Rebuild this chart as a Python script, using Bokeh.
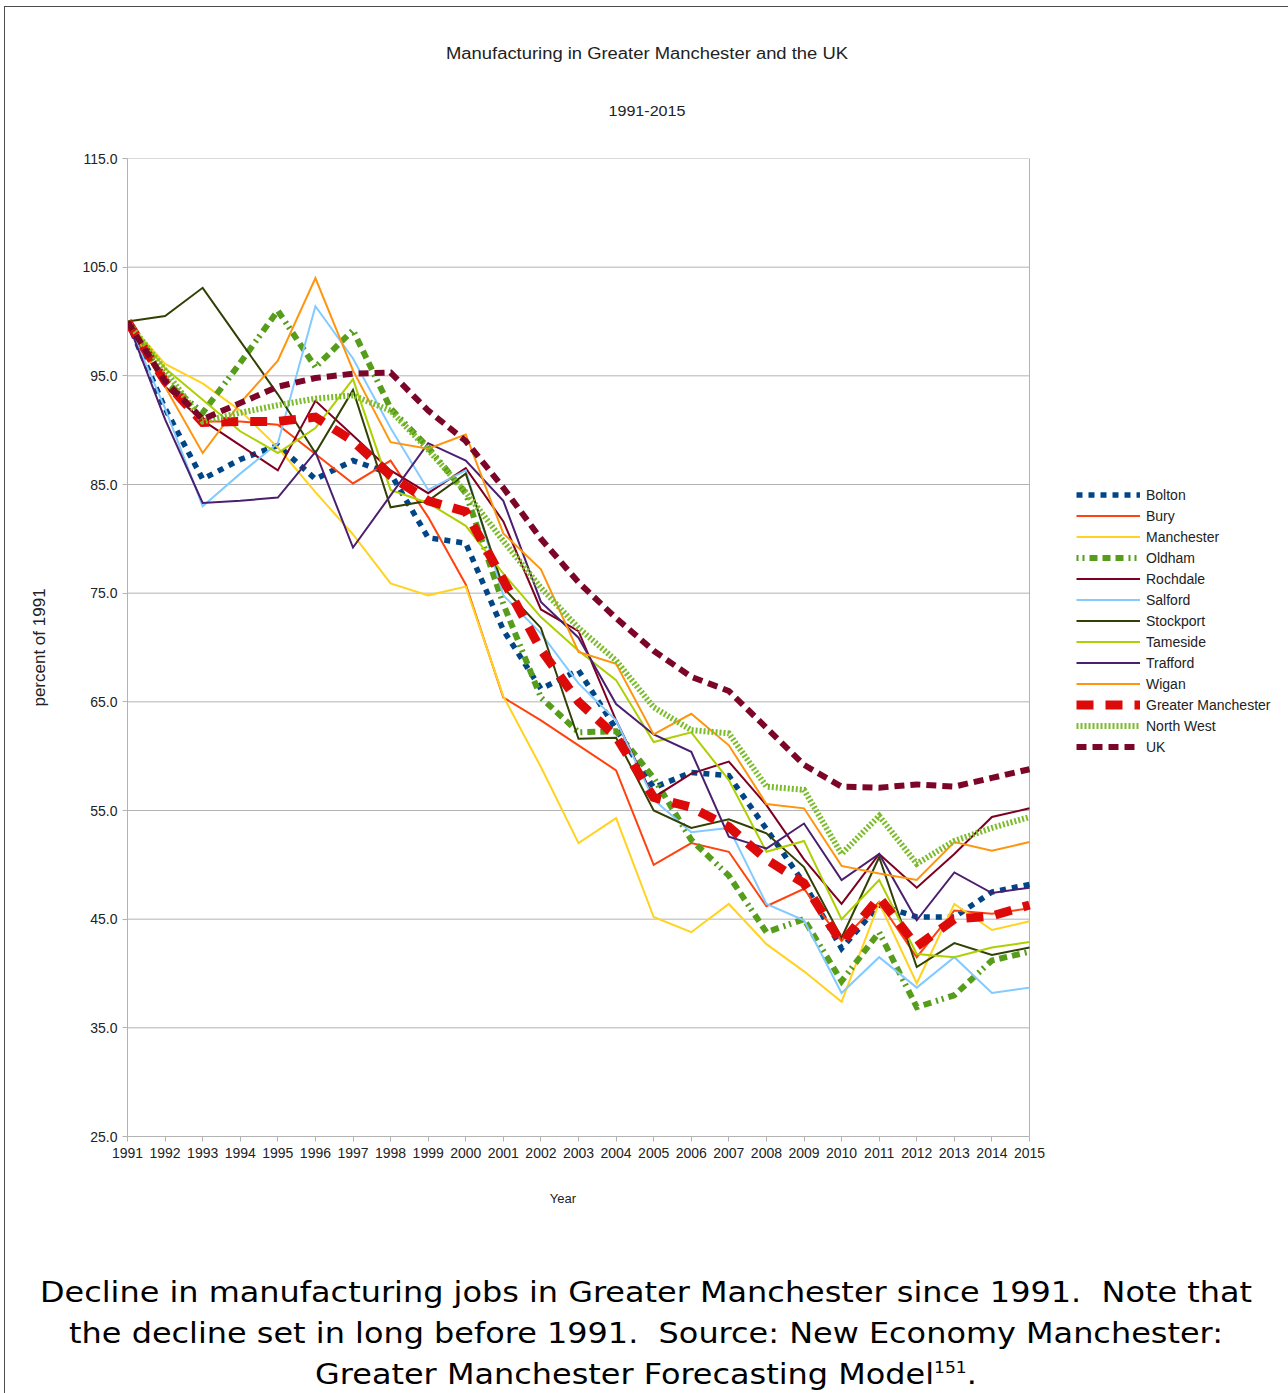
from bokeh.plotting import figure
from bokeh.models import (Range1d, FixedTicker, NumeralTickFormatter, Legend, LegendItem, Div)
from bokeh.layouts import column
from bokeh.embed import file_html
from bokeh.resources import INLINE

years = [1991, 1992, 1993, 1994, 1995, 1996, 1997, 1998, 1999, 2000, 2001, 2002, 2003,
         2004, 2005, 2006, 2007, 2008, 2009, 2010, 2011, 2012, 2013, 2014, 2015]
y_ticks = [25, 35, 45, 55, 65, 75, 85, 95, 105, 115]

bolton = [100, 92.0, 85.5, 87.3, 88.6, 85.5, 87.2, 86.0, 80.1, 79.6, 71.6, 66.2, 67.9, 62.5,
          57.1, 58.5, 58.2, 53.3, 48.3, 42.3, 46.3, 45.2, 45.2, 47.5, 48.2]
bury = [100, 94.0, 90.8, 90.8, 90.5, 87.8, 85.1, 87.2, 82.0, 75.8, 65.4, 63.3, 61.0, 58.7,
        50.0, 52.0, 51.2, 46.2, 47.8, 43.0, 46.6, 41.5, 45.8, 45.5, 46.0]
manchester = [100, 96.1, 94.3, 91.8, 88.4, 84.3, 80.4, 75.9, 74.8, 75.6, 65.5, 59.0, 52.0,
              54.3, 45.2, 43.8, 46.4, 42.7, 40.2, 37.4, 46.5, 39.1, 46.4, 44.0, 44.8]
oldham = [100, 94.5, 91.6, 96.2, 101.0, 95.8, 99.2, 92.0, 88.4, 84.2, 74.0, 65.4, 62.2, 62.3,
          58.0, 52.3, 49.0, 43.8, 45.0, 39.3, 43.8, 36.9, 38.0, 41.2, 42.0]
rochdale = [100, 94.0, 90.9, 88.6, 86.3, 92.7, 89.5, 86.3, 84.2, 86.5, 81.6, 73.5, 71.5, 63.3,
            56.2, 58.4, 59.5, 55.5, 50.5, 46.4, 51.0, 47.9, 51.0, 54.4, 55.2]
salford = [100, 92.0, 83.0, 86.0, 88.8, 101.4, 96.6, 90.2, 84.5, 86.3, 74.8, 71.3, 66.7, 63.3,
           56.0, 53.0, 53.4, 46.4, 44.9, 38.2, 41.5, 38.7, 41.5, 38.2, 38.7]
stockport = [100, 100.5, 103.1, 98.2, 93.3, 87.9, 93.7, 82.9, 83.5, 86.0, 75.5, 71.8, 61.6,
             61.7, 55.0, 53.4, 54.2, 52.9, 49.8, 43.3, 50.7, 40.6, 42.8, 41.7, 42.4]
tameside = [100, 95.7, 92.8, 89.9, 87.9, 90.2, 94.7, 84.5, 83.3, 81.2, 76.8, 72.8, 69.7, 67.0,
            61.3, 62.2, 57.8, 51.2, 52.2, 45.0, 48.6, 41.8, 41.5, 42.4, 42.9]
trafford = [100, 91.0, 83.3, 83.5, 83.8, 88.0, 79.2, 84.0, 88.8, 87.2, 83.5, 74.2, 70.9, 64.8,
            62.0, 60.4, 52.6, 51.5, 53.8, 48.6, 51.0, 44.9, 49.3, 47.4, 47.9]
wigan = [100, 94.0, 87.9, 92.5, 96.4, 104.0, 95.5, 88.9, 88.3, 89.6, 80.5, 77.2, 69.6, 68.5,
         62.0, 63.9, 61.0, 55.6, 55.2, 49.9, 49.2, 48.6, 52.1, 51.3, 52.1]
greater_manchester = [100, 94.5, 90.7, 90.8, 90.8, 91.2, 89.0, 85.8, 83.5, 82.5, 76.2, 69.8,
                      65.0, 61.8, 56.2, 55.3, 53.5, 50.5, 48.3, 42.8, 47.0, 42.5, 45.0, 45.3, 46.3]
north_west = [100, 95.5, 90.8, 91.6, 92.3, 92.9, 93.2, 91.8, 88.2, 84.3, 79.8, 75.5, 71.8,
              68.8, 64.5, 62.4, 62.1, 57.2, 56.9, 51.0, 54.5, 50.1, 52.2, 53.4, 54.4]
uk = [100, 94.5, 91.0, 92.5, 94.0, 94.8, 95.2, 95.3, 91.8, 89.0, 84.7, 80.0, 76.0, 72.7, 69.7,
      67.3, 66.0, 62.6, 59.2, 57.2, 57.1, 57.4, 57.2, 58.0, 58.8]

series_names = ["Bolton", "Bury", "Manchester", "Oldham", "Rochdale", "Salford", "Stockport",
                "Tameside", "Trafford", "Wigan", "Greater Manchester", "North West", "UK"]
series_values = [bolton, bury, manchester, oldham, rochdale, salford, stockport, tameside,
                 trafford, wigan, greater_manchester, north_west, uk]

styles = {
    "Bolton": dict(color="#004586", width=5.5, dash="6 6"),
    "Bury": dict(color="#ff420e", width=2, dash="solid"),
    "Manchester": dict(color="#ffd320", width=2, dash="solid"),
    "Oldham": dict(color="#579d1c", width=6, dash="2 4 2 5 8 5 8 5 8 5"),
    "Rochdale": dict(color="#7e0021", width=2, dash="solid"),
    "Salford": dict(color="#83caff", width=2, dash="solid"),
    "Stockport": dict(color="#314004", width=2, dash="solid"),
    "Tameside": dict(color="#aecf00", width=2, dash="solid"),
    "Trafford": dict(color="#4b1f6f", width=2, dash="solid"),
    "Wigan": dict(color="#ff950e", width=2, dash="solid"),
    "Greater Manchester": dict(color="#dd0a0a", width=9, dash="17 12"),
    "North West": dict(color="#7cbb2c", width=6, dash="2 2"),
    "UK": dict(color="#7b0628", width=6, dash="10 6"),
}

PAGE_W = 1288
TITLE_H = 140
FIG_BOTTOM = 1175
FIG_H = FIG_BOTTOM - TITLE_H
CAP_H = 1393 - FIG_BOTTOM
FL, FR = 127, 1029          # plot area left / right (page px)
FT, FB = 158, 1136          # plot area top / bottom (page px)
px_per_year = (FR - FL) / (years[-1] - years[0])
x_end = years[0] + (PAGE_W - FL) / px_per_year   # frame runs on under the legend

p = figure(width=PAGE_W, height=FIG_H, output_backend="svg", toolbar_location=None,
           x_range=Range1d(years[0], x_end), y_range=Range1d(y_ticks[0], y_ticks[-1]),
           min_border_left=FL, min_border_right=0,
           min_border_top=FT - TITLE_H, min_border_bottom=FIG_BOTTOM - FB,
           margin=0)
p.background_fill_color = "white"
p.border_fill_alpha = 0
p.outline_line_color = None
p.xgrid.visible = False
p.ygrid.visible = False

# plot-area grid and right border, limited to the data span
p.segment(x0=years[0], y0=y_ticks, x1=years[-1], y1=y_ticks,
          line_color="#b3b3b3", line_width=1)
p.segment(x0=years[-1], y0=y_ticks[0], x1=years[-1], y1=y_ticks[-1],
          line_color="#b3b3b3", line_width=1)

p.yaxis.ticker = FixedTicker(ticks=y_ticks)
p.yaxis.formatter = NumeralTickFormatter(format="0.0")
p.xaxis.ticker = FixedTicker(ticks=years)
p.xaxis.bounds = (years[0], years[-1])
for ax in (p.xaxis, p.yaxis):
    ax.axis_line_color = "#b3b3b3"
    ax.major_tick_line_color = "#b3b3b3"
    ax.minor_tick_line_color = None
    ax.major_tick_in = 0
    ax.major_tick_out = 5
    ax.major_label_text_font = "Liberation Sans"
    ax.major_label_text_font_size = "14px"
    ax.major_label_text_color = "#222222"
    ax.axis_label_text_font = "Liberation Sans"
    ax.axis_label_text_font_style = "normal"
    ax.axis_label_text_color = "#222222"
p.xaxis.major_label_standoff = 6
p.yaxis.major_label_standoff = 5
p.yaxis.axis_label = "percent of 1991"
p.yaxis.axis_label_text_font_size = "17px"
p.yaxis.axis_label_standoff = 30

items = []
for name, vals in zip(series_names, series_values):
    st = styles[name]
    r = p.line(years, vals, line_color=st["color"], line_width=st["width"],
               line_dash=st["dash"], line_cap="butt", line_join="miter")
    items.append(LegendItem(label=name, renderers=[r]))

legend = Legend(items=items, location=(945, 375), orientation="vertical",
                glyph_width=64, glyph_height=21, label_height=21, spacing=0,
                padding=4, margin=0, label_standoff=6,
                label_text_font="Liberation Sans", label_text_font_size="14px",
                label_text_color="#222222", border_line_alpha=0,
                background_fill_alpha=0)
p.add_layout(legend)


def text_block(txt, cx, cy, size, font, stretch, width, line_h, color):
    return ('<div style="position:absolute;left:%dpx;top:%dpx;width:%dpx;height:%dpx;'
            'text-align:center;font-family:%s;font-size:%s;line-height:%dpx;'
            'white-space:nowrap;color:%s;transform:scaleX(%.3f);">%s</div>'
            % (cx - width // 2, cy - line_h // 2, width, line_h, font, size, line_h,
               color, stretch, txt))


LIB = "'Liberation Sans',Arial,sans-serif"
DJV = "'DejaVu Sans',sans-serif"

title_html = ('<div style="position:relative;width:%dpx;height:%dpx;overflow:hidden;">'
              % (PAGE_W, TITLE_H))
title_html += text_block("Manufacturing in Greater Manchester and the UK", 647, 54, "16px",
                         LIB, 1.15, 800, 22, "#222")
title_html += text_block("1991-2015", 647, 111, "14px", LIB, 1.15, 400, 20, "#222")
title_html += '</div>'

cap_lines = [
    "Decline in manufacturing jobs in Greater Manchester since 1991.&nbsp; Note that",
    "the decline set in long before 1991.&nbsp; Source: New Economy Manchester:",
    'Greater Manchester Forecasting Model<span style="position:relative;top:-11px;'
    'font-size:15px;">151</span>.',
]
cap_centers = [1293, 1334, 1375]

cap_html = ('<div style="position:relative;width:%dpx;height:%dpx;overflow:hidden;">'
            % (PAGE_W, CAP_H))
cap_html += text_block("Year", 563, 1199 - FIG_BOTTOM, "13px", LIB, 1.0, 200, 18, "#222")
for txt, c in zip(cap_lines, cap_centers):
    cap_html += text_block(txt, 646, c - FIG_BOTTOM, "28px", DJV, 1.14, 1120, 34, "#000")
cap_html += '</div>'

title_div = Div(text=title_html, width=PAGE_W, height=TITLE_H, margin=0)
cap_div = Div(text=cap_html, width=PAGE_W, height=CAP_H, margin=0)

frame_bg = ("linear-gradient(#4d4d4d,#4d4d4d) 4px 6px / 1px 1387px no-repeat, "
            "linear-gradient(#4d4d4d,#4d4d4d) 4px 6px / 1284px 1px no-repeat, white")
layout = column(title_div, p, cap_div, spacing=0, margin=0,
                styles={"background": frame_bg})

open("out.html", "w").write(file_html(layout, INLINE))
